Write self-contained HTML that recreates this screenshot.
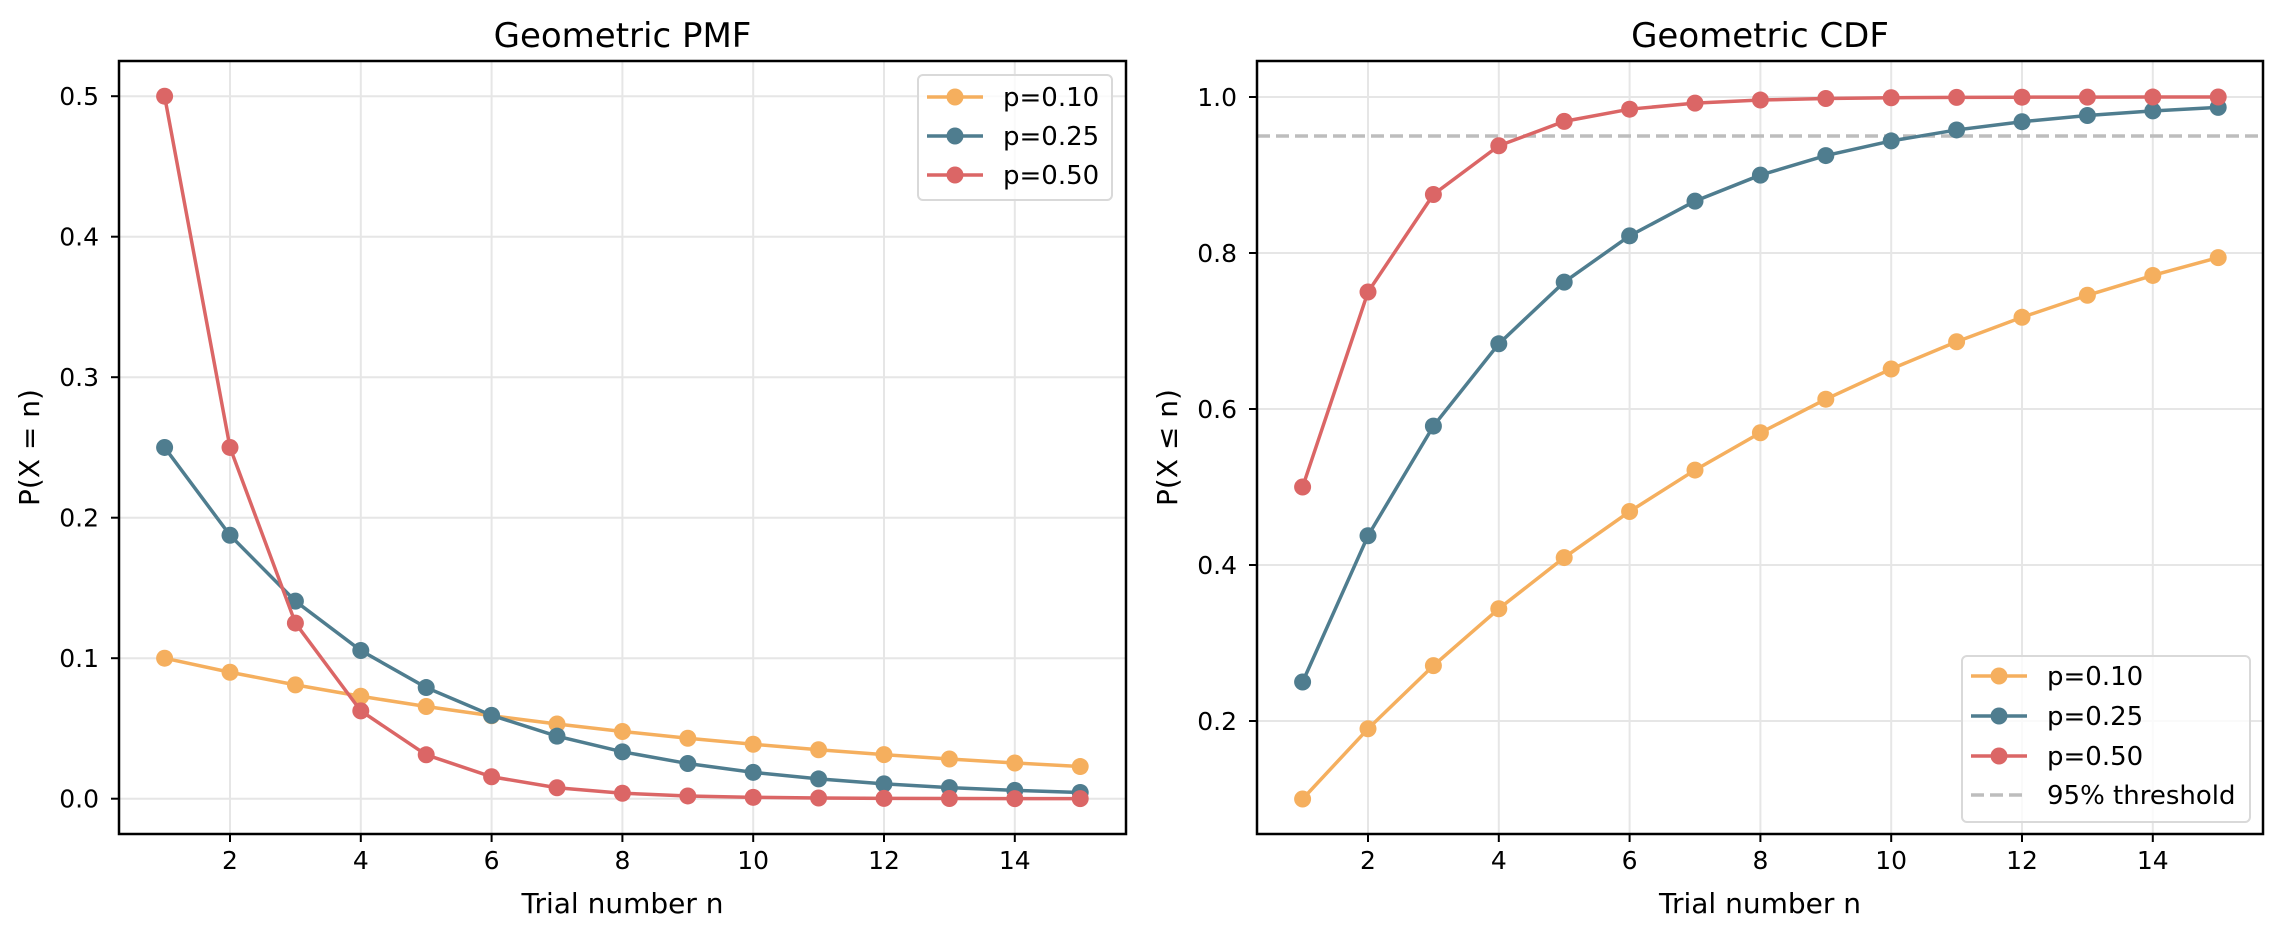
<!DOCTYPE html>
<html><head><meta charset="utf-8"><style>
html,body{margin:0;padding:0;background:#fff;}
svg{display:block;font-family:"DejaVu Sans","Liberation Sans",sans-serif;}
</style></head><body>
<svg id="s" width="2282" height="937" xmlns="http://www.w3.org/2000/svg"></svg>
<script>
const s=document.getElementById('s');
let h='';
const C={a:'#F5AF5E',b:'#4F7D8F',c:'#DB6666'};
const ps=[[0.10,C.a],[0.25,C.b],[0.50,C.c]];
function ax(L,R,T,B,x1px,xs,y0px,ys,yt,ydec,kind,title,ylab){
  const X=n=>x1px+(n-1)*xs, Y=v=>y0px-v*ys;
  for(let n=2;n<=14;n+=2){h+=`<line x1="${X(n)}" y1="${T}" x2="${X(n)}" y2="${B}" stroke="#e6e6e6" stroke-width="2"/>`;}
  yt.forEach(v=>{h+=`<line x1="${L}" y1="${Y(v)}" x2="${R}" y2="${Y(v)}" stroke="#e6e6e6" stroke-width="2"/>`;});
  if(kind==='cdf'){h+=`<line x1="${L}" y1="${Y(0.95)}" x2="${R}" y2="${Y(0.95)}" stroke="#bdbdbd" stroke-width="3.5" stroke-dasharray="13,6"/>`;}
  ps.forEach(([p,c])=>{
    let pts=[];
    for(let n=1;n<=15;n++){const v=kind==='pmf'?p*Math.pow(1-p,n-1):1-Math.pow(1-p,n);pts.push([X(n),Y(v)]);}
    h+=`<polyline points="${pts.map(q=>q.join(',')).join(' ')}" fill="none" stroke="${c}" stroke-width="3.5"/>`;
    pts.forEach(q=>{h+=`<circle cx="${q[0]}" cy="${q[1]}" r="8.5" fill="${c}"/>`;});
  });
  h+=`<rect x="${L}" y="${T}" width="${R-L}" height="${B-T}" fill="none" stroke="#000" stroke-width="2.5"/>`;
  for(let n=2;n<=14;n+=2){h+=`<line x1="${X(n)}" y1="${B}" x2="${X(n)}" y2="${B+8}" stroke="#000" stroke-width="2"/><text x="${X(n)}" y="${B+35}" font-size="25" text-anchor="middle">${n}</text>`;}
  yt.forEach(v=>{h+=`<line x1="${L-8}" y1="${Y(v)}" x2="${L}" y2="${Y(v)}" stroke="#000" stroke-width="2"/><text x="${L-20}" y="${Y(v)+9}" font-size="25" text-anchor="end">${v.toFixed(1)}</text>`;});
  h+=`<text x="${(L+R)/2}" y="47" font-size="34" text-anchor="middle">${title}</text>`;
  h+=`<text x="${(L+R)/2}" y="913" font-size="28" text-anchor="middle">Trial number n</text>`;
  h+=`<text x="0" y="0" font-size="28" text-anchor="middle" transform="translate(${L-80},${(T+B)/2}) rotate(-90)">${ylab}</text>`;
}
function legend(x,y,w,hh,ys,thr){
  h+=`<rect x="${x}" y="${y}" width="${w}" height="${hh}" rx="5" fill="#fff" fill-opacity="0.8" stroke="#d9d9d9" stroke-width="2"/>`;
  const lx=x+9,tx=x+85;
  ps.forEach(([p,c],i)=>{const yy=ys[i];h+=`<line x1="${lx}" y1="${yy}" x2="${lx+56}" y2="${yy}" stroke="${c}" stroke-width="3.5"/><circle cx="${lx+28}" cy="${yy}" r="8.5" fill="${c}"/><text x="${tx}" y="${yy+9}" font-size="26">p=${p.toFixed(2)}</text>`;});
  if(thr){const yy=ys[3];h+=`<line x1="${lx}" y1="${yy}" x2="${lx+56}" y2="${yy}" stroke="#bdbdbd" stroke-width="3.5" stroke-dasharray="13,6"/><text x="${tx}" y="${yy+9}" font-size="26">95% threshold</text>`;}
}
ax(119,1126,61,834,164.6,65.4,798.7,1405,[0,0.1,0.2,0.3,0.4,0.5],1,'pmf','Geometric PMF','P(X = n)');
ax(1257,2263,61,834,1302.6,65.4,97+780,780,[0.2,0.4,0.6,0.8,1.0],1,'cdf','Geometric CDF','P(X ≤ n)');
legend(918,75,194,125,[97,136,175],false);
legend(1962,656,288,166,[676,716,756,795],true);
s.innerHTML=h;
</script>
</body></html>
